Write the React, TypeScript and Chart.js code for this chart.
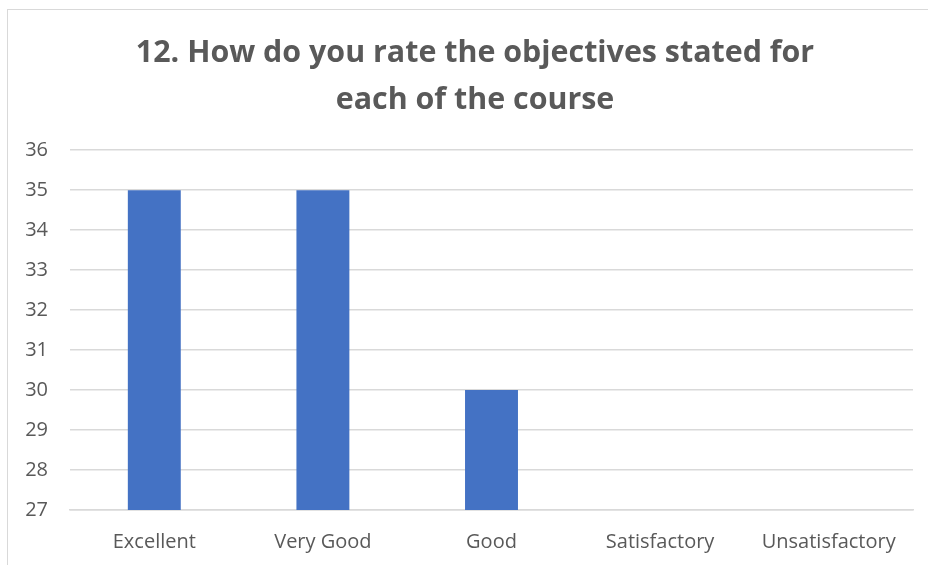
import React, { useEffect, useRef } from "react";
import { Chart, registerables } from "chart.js";

Chart.register(...registerables);

const titleLines = ["12. How do you rate the objectives stated for", "each of the course"];
const categories = ["Excellent", "Very Good", "Good", "Satisfactory", "Unsatisfactory"];
const values = [35, 35, 30, 0, 0];
const yMin = 27;
const yMax = 36;
const yStep = 1;

const FONT = "'Open Sans', 'Noto Sans', sans-serif";
const TEXT = "#595959";
const GRID = "#d9d9d9";

const titleShift = {
  id: "titleShift",
  afterLayout(chart: any) {
    if (chart.titleBlock) {
      chart.titleBlock.left = 37;
    }
  },
};

export default function App() {
  const ref = useRef<HTMLCanvasElement | null>(null);
  useEffect(() => {
    if (!ref.current) return;
    const chart = new Chart(ref.current, {
      type: "bar",
      data: {
        labels: categories,
        datasets: [
          {
            data: values,
            backgroundColor: "#4472c4",
            borderWidth: 0,
            barPercentage: 1,
            categoryPercentage: 0.314,
          },
        ],
      },
      plugins: [titleShift],
      options: {
        responsive: false,
        animation: false,
        layout: { padding: { left: 0, right: 15, top: 0, bottom: 0 } },
        plugins: {
          legend: { display: false },
          tooltip: { enabled: false },
          title: {
            display: true,
            text: titleLines,
            color: TEXT,
            font: { family: FONT, size: 30.4, weight: "bold", lineHeight: 1.55 },
            padding: { top: 30, bottom: 26 },
          },
        },
        scales: {
          x: {
            grid: { display: false, drawTicks: false },
            border: { display: true, color: GRID, width: 1.5 },
            ticks: { color: TEXT, font: { family: FONT, size: 20 }, padding: 20, maxRotation: 0 },
            afterFit: (s: any) => {
              s.height = 55;
            },
          },
          y: {
            min: yMin,
            max: yMax,
            ticks: { stepSize: yStep, color: TEXT, font: { family: FONT, size: 20 }, padding: 22 },
            grid: { color: GRID, lineWidth: 1.5, drawTicks: false },
            border: { display: false },
            afterFit: (s: any) => {
              s.width = 70;
            },
          },
        },
      },
    });
    return () => chart.destroy();
  }, []);
  return (
    <div style={{ position: "fixed", left: 0, top: 0, width: 928, height: 565, overflow: "hidden", background: "#fff" }}>
      <div
        style={{
          position: "absolute",
          left: 7,
          top: 9,
          width: 960,
          height: 600,
          border: "1.5px solid #d9d9d9",
          boxSizing: "border-box",
        }}
      />
      <canvas ref={ref} width={928} height={565} style={{ position: "absolute", left: 0, top: 0 }} />
    </div>
  );
}
